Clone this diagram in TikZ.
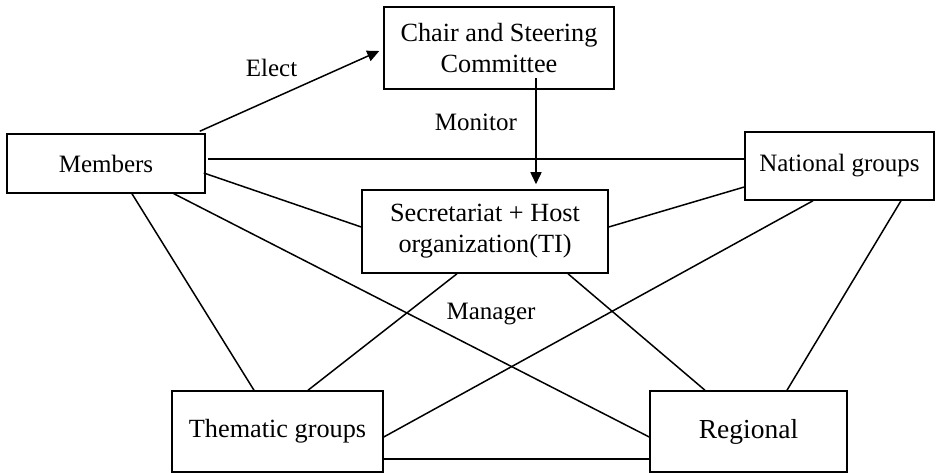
\documentclass[tikz,border=0pt]{standalone}
\usepackage{fontspec}
\setmainfont{Liberation Serif}
\usetikzlibrary{arrows.meta}

\begin{document}
\begin{tikzpicture}[x=0.4pt,y=-0.4pt,
        box/.style={draw,line width=0.6pt,align=center,inner sep=0pt,
            font=\fontsize{10.5}{12.5}\selectfont},
        link/.style={line width=0.6pt},
        lbl/.style={font=\fontsize{10}{12}\selectfont}]
        \useasboundingbox (0,0) rectangle (936,473);
        % the six boxes
        \node[box,minimum width=92pt,minimum height=32.8pt] (chair) at (499,48) {Chair and Steering\\Committee};
        \node[box,minimum width=79.2pt,minimum height=23.6pt,font=\fontsize{10}{12}\selectfont] (mem) at (106,163.5) {Members};
        \node[box,minimum width=98.4pt,minimum height=33.2pt] (sec) at (485,231.5) {Secretariat + Host\\organization(TI)};
        \node[box,minimum width=75.6pt,minimum height=27.2pt,font=\fontsize{10}{12}\selectfont] (nat) at (839.5,166) {National groups};
        \node[box,minimum width=84.4pt,minimum height=32.4pt] (them) at (277.5,431.5) {Thematic groups};
        \node[box,minimum width=78.8pt,minimum height=32.4pt,font=\fontsize{11}{13}\selectfont] (reg) at (748.5,431.5) {Regional};
        % arrows
        \draw[link,-{Triangle[length=4.8pt,width=4.4pt]}] ([shift={(-6,-2)}]mem.north east) -- ([shift={(-4,3)}]chair.west)
            node[lbl,pos=0.4,yshift=12.6pt] (elect) {Elect};
        \draw[link,-{Triangle[length=4.8pt,width=4.4pt]}] ([shift={(37,-12)}]chair.south) -- ([shift={(51,-5)}]sec.north)
            node[lbl,pos=0.42,left=4pt] (monitor) {Monitor};
        \node[lbl] (manager) at ([shift={(6,40)}]sec.south) {Manager};
        % plain links
        \draw[link] ([shift={(2,-4.5)}]mem.east) -- ([shift={(0,-7)}]nat.west);
        \draw[link] ([shift={(-2,9.5)}]mem.east) -- ([shift={(0,-4.5)}]sec.west);
        \draw[link] ([shift={(26,0)}]mem.south) -- ([shift={(-23.5,0)}]them.north);
        \draw[link] ([shift={(66,-1)}]mem.south) -- ([shift={(0,5.5)}]reg.west);
        \draw[link] ([shift={(0,-4.5)}]sec.east) -- ([shift={(0,21)}]nat.west);
        \draw[link] ([shift={(-28,0)}]sec.south) -- ([shift={(30.5,0)}]them.north);
        \draw[link] ([shift={(83,0)}]sec.south) -- ([shift={(-43.5,0)}]reg.north);
        \draw[link] ([shift={(-26.5,0)}]nat.south) -- ([shift={(0,5.5)}]them.east);
        \draw[link] ([shift={(61.5,0)}]nat.south) -- ([shift={(38.5,0)}]reg.north);
        \draw[link] ([shift={(0,27.5)}]them.east) -- ([shift={(0,27.5)}]reg.west);
    \end{tikzpicture}
\end{document}
